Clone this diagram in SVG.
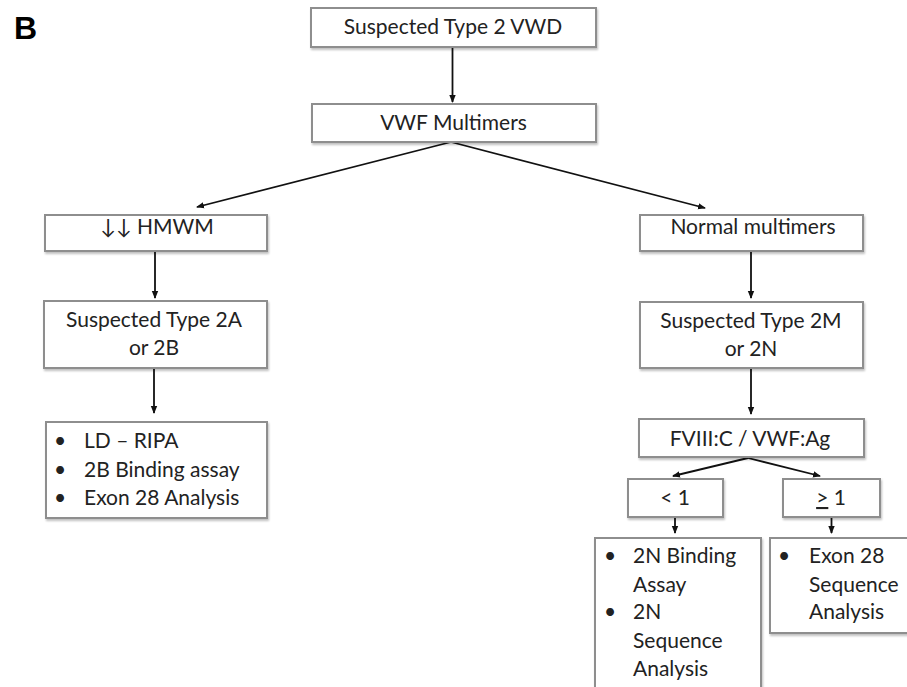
<svg xmlns="http://www.w3.org/2000/svg" width="907" height="687" viewBox="0 0 907 687">
  <defs>
    <marker id="ah" viewBox="0 0 8 8" refX="7" refY="4" markerWidth="8" markerHeight="8" markerUnits="userSpaceOnUse" orient="auto">
      <path d="M0,0.8 L8,4 L0,7.2 Z" fill="#111"/>
    </marker>
    <filter id="sh" x="-5%" y="-5%" width="115%" height="120%">
      <feGaussianBlur in="SourceAlpha" stdDeviation="1"/>
      <feOffset dx="1" dy="1.5"/>
      <feComponentTransfer><feFuncA type="linear" slope="0.25"/></feComponentTransfer>
      <feMerge><feMergeNode/><feMergeNode in="SourceGraphic"/></feMerge>
    </filter>
  </defs>
  <style>
    .box { fill: #fff; stroke: #8e8e8e; stroke-width: 2; filter: url(#sh); }
    .t { font-family: Lato, "Open Sans", "Liberation Sans", sans-serif; font-size: 21px; fill: #222; }
    .c { text-anchor: middle; }
    .ln { fill: none; stroke: #111; stroke-width: 1.8; marker-end: url(#ah); }
    .lbl { font-family: "Liberation Sans", Arial, sans-serif; font-weight: bold; font-size: 32px; fill: #000; }
  </style>
  <rect width="907" height="687" fill="#fff"/>

  <text class="lbl" x="14" y="39">B</text>

  <g id="connectors">
    <line class="ln" x1="452.5" y1="48" x2="452.5" y2="102"/>
    <line class="ln" x1="451" y1="142" x2="197" y2="207"/>
    <line class="ln" x1="451" y1="142" x2="705" y2="208"/>
    <line class="ln" x1="155" y1="251" x2="155" y2="298"/>
    <line class="ln" x1="154" y1="368" x2="154" y2="413"/>
    <line class="ln" x1="751" y1="252" x2="751" y2="298"/>
    <line class="ln" x1="751" y1="369" x2="751" y2="414"/>
    <line class="ln" x1="748" y1="458" x2="673" y2="476"/>
    <line class="ln" x1="748" y1="458" x2="820" y2="476"/>
    <line class="ln" x1="675" y1="518" x2="675" y2="533"/>
    <line class="ln" x1="831.5" y1="518" x2="831.5" y2="533"/>
  </g>

  <g id="n-type2">
    <rect class="box" x="311" y="8" width="285" height="39"/>
    <text class="t c" x="453" y="34">Suspected Type 2 VWD</text>
  </g>

  <g id="n-multimers">
    <rect class="box" x="312" y="104" width="284" height="38"/>
    <text class="t c" x="453.5" y="130">VWF Multimers</text>
  </g>

  <g id="n-hmwm">
    <rect class="box" x="45" y="215" width="222" height="36"/>
    <text class="t c" x="157" y="234">↓↓ HMWM</text>
  </g>

  <g id="n-normal">
    <rect class="box" x="640" y="215" width="223" height="36"/>
    <text class="t c" x="753" y="234">Normal multimers</text>
  </g>

  <g id="n-2a2b">
    <rect class="box" x="44" y="301" width="223" height="67"/>
    <text class="t c" x="154" y="327">Suspected Type 2A</text>
    <text class="t c" x="154" y="355">or 2B</text>
  </g>

  <g id="n-2m2n">
    <rect class="box" x="640" y="302" width="223" height="66"/>
    <text class="t c" x="751" y="328">Suspected Type 2M</text>
    <text class="t c" x="751" y="356">or 2N</text>
  </g>

  <g id="n-tests-2a2b">
    <rect class="box" x="46" y="422" width="221" height="96"/>
    <text class="t" x="54" y="448">•</text>
    <text class="t" x="84" y="448">LD – RIPA</text>
    <text class="t" x="54" y="477">•</text>
    <text class="t" x="84" y="477">2B Binding assay</text>
    <text class="t" x="54" y="505">•</text>
    <text class="t" x="84" y="505">Exon 28 Analysis</text>
  </g>

  <g id="n-ratio">
    <rect class="box" x="639" y="419" width="225" height="38"/>
    <text class="t c" x="750" y="446">FVIII:C / VWF:Ag</text>
  </g>

  <g id="n-lt1">
    <rect class="box" x="628" y="479" width="95" height="38"/>
    <text class="t c" x="675" y="505">&lt; 1</text>
  </g>

  <g id="n-ge1">
    <rect class="box" x="783" y="479" width="97" height="38"/>
    <text class="t c" x="831" y="505"><tspan text-decoration="underline">&gt;</tspan> 1</text>
  </g>

  <g id="n-tests-2n">
    <rect class="box" x="595" y="538" width="166" height="160"/>
    <text class="t" x="604" y="563">•</text>
    <text class="t" x="633" y="563">2N Binding</text>
    <text class="t" x="633" y="592">Assay</text>
    <text class="t" x="604" y="619">•</text>
    <text class="t" x="633" y="619">2N</text>
    <text class="t" x="633" y="648">Sequence</text>
    <text class="t" x="633" y="676">Analysis</text>
  </g>

  <g id="n-tests-exon28">
    <rect class="box" x="770" y="538" width="150" height="95"/>
    <text class="t" x="778" y="563">•</text>
    <text class="t" x="809" y="563">Exon 28</text>
    <text class="t" x="809" y="592">Sequence</text>
    <text class="t" x="809" y="619">Analysis</text>
  </g>
</svg>
